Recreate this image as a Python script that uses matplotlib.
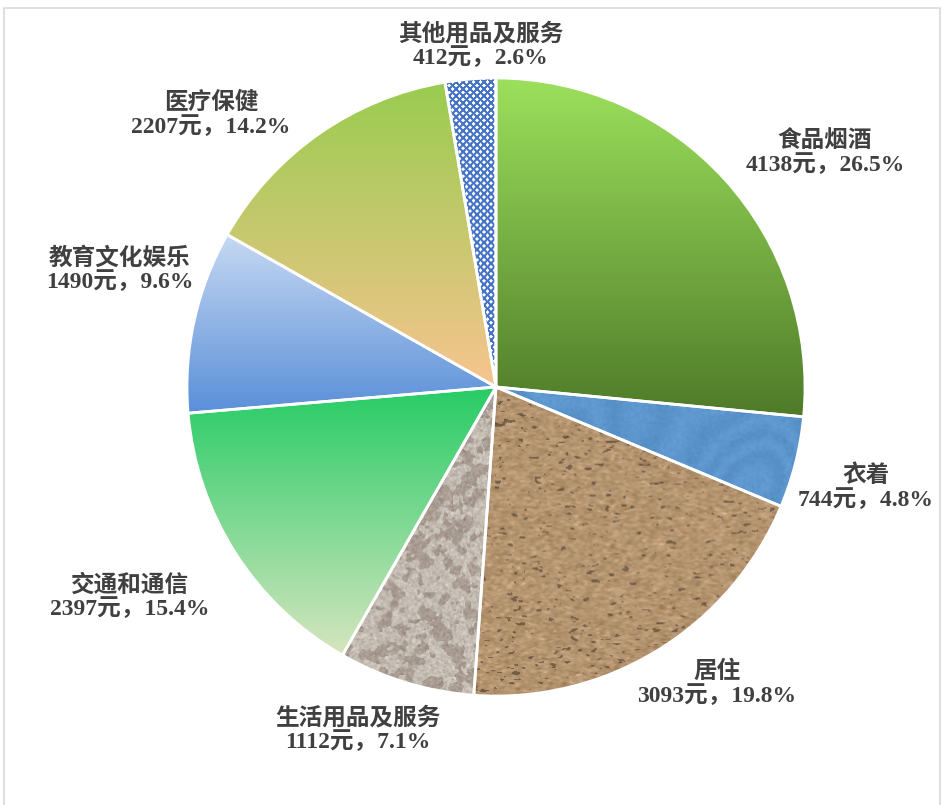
import numpy as np
import matplotlib.pyplot as plt
from matplotlib.patches import Rectangle

# 数据
categories = ['食品烟酒', '衣着', '居住', '生活用品及服务',
              '交通和通信', '教育文化娱乐', '医疗保健', '其他用品及服务']
amounts = [4138, 744, 3093, 1112, 2397, 1490, 2207, 412]

# 标签位置 (以饼图半径为单位)
label_pos = [(1.065, 0.757), (1.197, -0.327), (0.715, -0.961), (-0.447, -1.110),
             (-1.184, -0.680), (-1.217, 0.379), (-0.922, 0.880), (-0.049, 1.104)]

fonts = ['Liberation Serif', 'Noto Sans CJK SC']
N = 620
rng = np.random.default_rng(3)


def smooth_noise(sx, sy):
    a = rng.standard_normal((N, N))
    fy = np.fft.fftfreq(N)[:, None]
    fx = np.fft.fftfreq(N)[None, :]
    g = np.exp(-2 * np.pi ** 2 * ((fx * sx) ** 2 + (fy * sy) ** 2))
    b = np.real(np.fft.ifft2(np.fft.fft2(a) * g))
    return (b - b.mean()) / b.std()


def tint(base, v):
    img = np.array(base)[None, None, :] + v[:, :, None]
    return np.clip(img, 0, 1)


# 纹理
swirl = smooth_noise(30, 30)
blue_tex = tint((0.36, 0.58, 0.80), 0.018 * np.sin(swirl * 7) + 0.008 * smooth_noise(1, 1))

grain = smooth_noise(1.6, 0.8)
spots = smooth_noise(2.0, 0.9)
brown = tint((0.71, 0.58, 0.44), 0.03 * grain)
dark = spots < -1.7
brown[dark] = brown[dark] * 0.65
light = spots > 2.0
brown[light] = np.clip(brown[light] * 1.1, 0, 1)

blot = smooth_noise(3.5, 3.5) + 0.5 * smooth_noise(1.5, 1.5)
gray = tint((0.77, 0.74, 0.70), 0.035 * smooth_noise(0.7, 0.7))
mask = blot > 0.2
gray[mask] = tint((0.66, 0.61, 0.57), 0.03 * smooth_noise(0.7, 0.7))[mask]

ii, jj = np.mgrid[0:N, 0:N]
p = 7.0
lat = (np.abs(np.sin(np.pi * (ii + jj) / p)) < 0.45) | (np.abs(np.sin(np.pi * (ii - jj) / p)) < 0.45)
lattice = np.ones((N, N, 3))
lattice[lat] = (0.27, 0.45, 0.77)

# 渐变 (上 -> 下)
gradients = {
    0: ((0.61, 0.88, 0.36), (0.31, 0.48, 0.16)),
    4: ((0.15, 0.80, 0.40), (0.84, 0.90, 0.75)),
    5: ((0.78, 0.85, 0.95), (0.35, 0.56, 0.85)),
    6: ((0.60, 0.80, 0.31), (0.97, 0.77, 0.56)),
}
textures = {1: blue_tex, 2: brown, 3: gray, 7: lattice}

fig = plt.figure(figsize=(9.44, 8.05), dpi=100)
ax = fig.add_axes([0, 0, 1, 1])

wedges, _ = ax.pie(amounts, startangle=90, counterclock=False, radius=1,
                   wedgeprops=dict(edgecolor='white', linewidth=2))

for i, w in enumerate(wedges):
    w.set_zorder(3)
    w.set_facecolor('none')
    if i in gradients:
        ext = w.get_path().get_extents()
        top, bot = gradients[i]
        t = np.linspace(0, 1, 256)[:, None, None]
        arr = np.array(top)[None, None, :] * (1 - t) + np.array(bot)[None, None, :] * t
        im = ax.imshow(arr, extent=(ext.x0, ext.x1, ext.y0, ext.y1), aspect='auto',
                       interpolation='bilinear', zorder=1)
    else:
        im = ax.imshow(textures[i], extent=(-1, 1, -1, 1), aspect='auto',
                       interpolation='bilinear', zorder=1)
    im.set_clip_path(w)

total = sum(amounts)
for name, amt, (lx, ly) in zip(categories, amounts, label_pos):
    ax.text(lx, ly, f'{name}\n{amt}元，{amt / total * 100:.1f}%', ha='center', va='center',
            fontsize=17, fontweight='bold', color='#404040', family=fonts,
            linespacing=1.12, zorder=5)

cx, cy, r = 496, 387, 309
ax.set_xlim((0 - cx) / r, (944 - cx) / r)
ax.set_ylim((cy - 805) / r, cy / r)
ax.set_aspect('auto')
ax.axis('off')

fig.patches.append(Rectangle((4 / 944, -0.01), 936 / 944, 1 - 8 / 805 + 0.01,
                             transform=fig.transFigure, fill=False,
                             edgecolor='#D9D9D9', linewidth=1.2))

fig.savefig('out.png', dpi=100, facecolor='white')
